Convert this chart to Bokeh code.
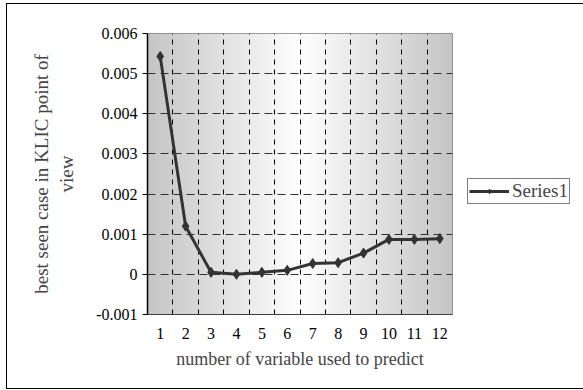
import numpy as np
from bokeh.plotting import figure
from bokeh.layouts import row
from bokeh.models import (FixedTicker, Grid, Legend, LegendItem, Range1d)
from bokeh.embed import file_html
from bokeh.resources import INLINE

# ---- data ----
categories = [1, 2, 3, 4, 5, 6, 7, 8, 9, 10, 11, 12]
series1 = [0.00543, 0.00120, 0.00005, 0.00000, 0.00005, 0.00010,
           0.00027, 0.00029, 0.00053, 0.00087, 0.00087, 0.00089]
y_ticks = [-0.001, 0, 0.001, 0.002, 0.003, 0.004, 0.005, 0.006]
y_tick_labels = ["-0.001", "0", "0.001", "0.002", "0.003", "0.004", "0.005", "0.006"]
x_tick_labels = [str(c) for c in categories]
series_name = "Series1"
x_title = "number of variable used to predict"
y_title = "best seen case in KLIC point of\nview"

FONT = "Liberation Serif"
LINE_COLOR = "#333333"

p = figure(width=460, height=384, output_backend="svg", toolbar_location=None,
           x_range=Range1d(0.5, 12.5), y_range=Range1d(-0.001, 0.006),
           min_border_left=140, min_border_right=15, min_border_top=29,
           min_border_bottom=74)
p.background_fill_color = "white"
p.border_fill_color = "white"
p.outline_line_color = "#808080"
p.outline_line_width = 1
p.xgrid.visible = False
p.ygrid.visible = False

# gradient background of the plot area
W = 300
t = np.linspace(0, 1, W)
center = 0.5
d = np.where(t < center, (center - t) / center, (t - center) / (1 - center))
g = (255 - 58 * d).astype(np.uint8)
img = np.zeros((2, W), dtype=np.uint32)
view = img.view(dtype=np.uint8).reshape((2, W, 4))
view[:, :, 0] = g
view[:, :, 1] = g
view[:, :, 2] = g
view[:, :, 3] = 255
p.image_rgba(image=[img], x=0.5, y=-0.001, dw=12, dh=0.007, level="image")

# grids
vg = Grid(dimension=0, ticker=FixedTicker(ticks=[c + 0.5 for c in categories[:-1]]),
          grid_line_color="black", grid_line_dash="5 5", grid_line_width=1)
hg = Grid(dimension=1, ticker=FixedTicker(ticks=y_ticks[1:-1]),
          grid_line_color="#303030", grid_line_dash="8 5", grid_line_width=1)
p.add_layout(vg)
p.add_layout(hg)

p.line(categories, series1, line_color=LINE_COLOR, line_width=3)
p.scatter(categories, series1, marker="diamond", size=10,
          fill_color=LINE_COLOR, line_color=LINE_COLOR)

# axes
p.xaxis.ticker = FixedTicker(ticks=categories)
p.xaxis.major_label_overrides = {c: l for c, l in zip(categories, x_tick_labels)}
p.xaxis.major_tick_line_color = None
p.xaxis.minor_tick_line_color = None
p.xaxis.axis_line_color = "#404040"
p.xaxis.major_label_text_font = FONT
p.xaxis.major_label_text_font_size = "16px"
p.xaxis.major_label_text_color = "black"
p.xaxis.major_label_standoff = 7
p.xaxis.axis_label = x_title
p.xaxis.axis_label_text_font = FONT
p.xaxis.axis_label_text_font_size = "18px"
p.xaxis.axis_label_text_font_style = "normal"
p.xaxis.axis_label_standoff = 7

p.yaxis.ticker = FixedTicker(ticks=y_ticks)
p.yaxis.major_label_overrides = {v: l for v, l in zip(y_ticks, y_tick_labels)}
p.yaxis.major_tick_in = 0
p.yaxis.major_tick_out = 5
p.yaxis.major_tick_line_color = "black"
p.yaxis.minor_tick_line_color = None
p.yaxis.axis_line_color = "black"
p.yaxis.axis_line_width = 1.5
p.yaxis.major_label_text_font = FONT
p.yaxis.major_label_text_font_size = "16px"
p.yaxis.major_label_text_color = "black"
p.yaxis.major_label_standoff = 5
p.yaxis.axis_label = y_title
p.yaxis.axis_label_text_font = FONT
p.yaxis.axis_label_text_font_size = "19px"
p.yaxis.axis_label_text_font_style = "normal"
p.yaxis.axis_label_standoff = 16

# legend panel to the right of the plot (its glyphs drawn off-range; only the legend shows)
lg = figure(width=116, height=384, output_backend="svg", toolbar_location=None,
            x_range=Range1d(-20, -19), y_range=Range1d(-20, -19), min_border=0)
lg.axis.visible = False
lg.grid.visible = False
lg.outline_line_color = None
lg.background_fill_color = "white"
lg.border_fill_color = "white"
l_line = lg.line(categories, series1, line_color=LINE_COLOR, line_width=3)
l_pts = lg.scatter(categories, series1, marker="diamond", size=8,
                   fill_color=LINE_COLOR, line_color=LINE_COLOR)
legend = Legend(items=[LegendItem(label=series_name, renderers=[l_line, l_pts])],
                location=(0, 110), border_line_color="black", border_line_width=1,
                label_text_font=FONT, label_text_font_size="19px",
                label_height=14, glyph_width=40, glyph_height=12, padding=1,
                margin=0, spacing=0, label_standoff=3, background_fill_alpha=1)
lg.add_layout(legend, "center")

layout = row(p, lg, spacing=0)
layout.styles = {"border": "1.5px solid black", "margin-left": "6px", "margin-top": "3px"}

open("out.html", "w").write(file_html(layout, INLINE))
